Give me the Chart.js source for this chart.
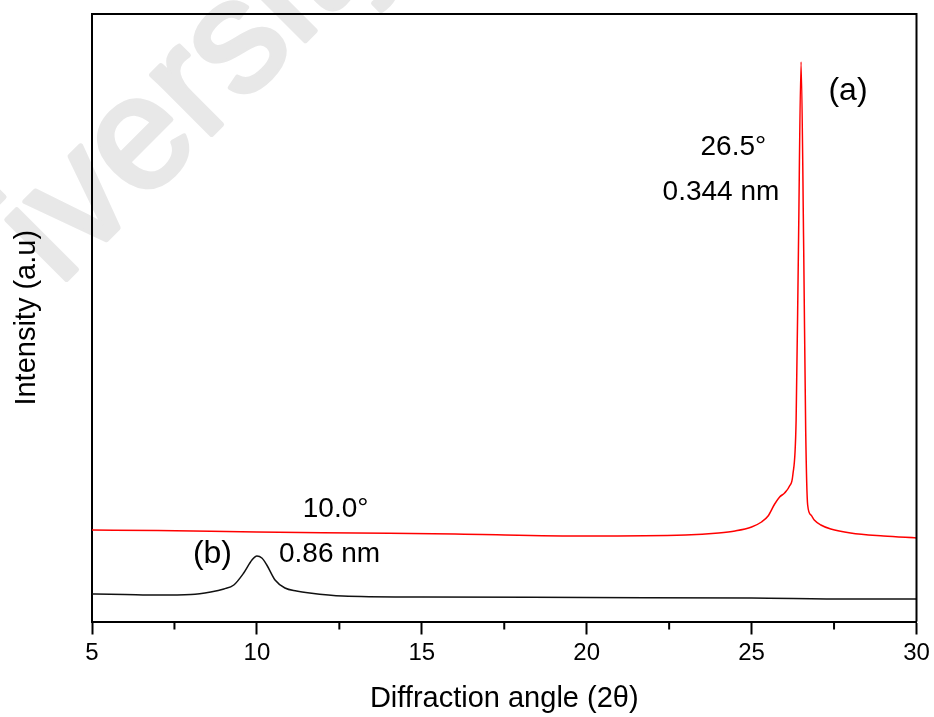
<!DOCTYPE html>
<html>
<head>
<meta charset="utf-8">
<title>XRD patterns</title>
<script src="https://cdn.jsdelivr.net/npm/chart.js@4.4.1/dist/chart.umd.min.js"></script>
<style>
  html, body { margin: 0; padding: 0; background: #fff; }
  #wrap { position: relative; width: 934px; height: 717px; }
</style>
</head>
<body>
<div id="wrap"><canvas id="xrd"></canvas></div>
<script>
// Pattern (a): 2-theta positions and intensities (a.u.)
const angleA = [5, 7, 10, 13, 16, 20, 23, 24, 24.5, 25, 25.3, 25.5, 25.7, 25.85, 26.0, 26.15, 26.25, 26.35, 26.42, 26.5, 26.58, 26.64, 26.7, 26.8, 26.9, 27.1, 27.4, 28, 29, 30];
const intensityA = [915, 910, 895, 885, 875, 855, 865, 885, 905, 945, 995, 1055, 1175, 1245, 1285, 1355, 1465, 2015, 3715, 5595, 3715, 1915, 1165, 1065, 1015, 965, 925, 885, 855, 835];

// Pattern (b)
const angleB = [5, 6, 7, 8, 8.6, 9.0, 9.3, 9.6, 9.85, 10.0, 10.15, 10.3, 10.55, 10.85, 11.2, 11.6, 12.6, 15, 20, 25, 28, 30];
const intensityB = [275, 270, 265, 270, 295, 325, 365, 485, 615, 655, 635, 565, 415, 335, 305, 285, 255, 245, 240, 235, 225, 225];

// Axis settings
const xMin = 5;
const xMax = 30;
const xMajorStep = 5;
const xMinorTicks = [7.5, 12.5, 17.5, 22.5, 27.5];
const yMax = 6075;

// Peak annotations: [text, angle, intensity, font size]
const notes = [
  ["(a)", 27.33, 5215, 32],
  ["26.5°", 23.45, 4665, 28],
  ["0.344 nm", 22.3, 4215, 28],
  ["10.0°", 11.39, 1045, 28],
  ["(b)", 8.06, 585, 32],
  ["0.86 nm", 10.67, 595, 28],
];

const FONT = '"Liberation Sans", Arial, sans-serif';

function toPoints(xs, ys) {
  return xs.map((x, i) => ({ x: x, y: ys[i] }));
}

// white page plus the faint watermark behind everything
const backdrop = {
  id: "backdrop",
  beforeDraw(chart) {
    const ctx = chart.ctx;
    ctx.save();
    ctx.fillStyle = "#fff";
    ctx.fillRect(0, 0, chart.width, chart.height);
    ctx.translate(59, 287);
    ctx.rotate(-45 * Math.PI / 180);
    ctx.font = "160px " + FONT;
    ctx.fillStyle = "#e8e8e8";
    ctx.strokeStyle = "#e8e8e8";
    ctx.lineWidth = 5;
    ctx.lineJoin = "round";
    ctx.textBaseline = "alphabetic";
    ctx.strokeText("iversity", 0, 0);
    ctx.fillText("iversity", 0, 0);
    ctx.restore();
  },
};

// closing frame, minor ticks and the peak labels
const decorations = {
  id: "decorations",
  afterDraw(chart) {
    const ctx = chart.ctx;
    const area = chart.chartArea;
    const xs = chart.scales.x;
    const ys = chart.scales.y;
    ctx.save();
    ctx.strokeStyle = "#000";
    ctx.lineWidth = 2;
    ctx.beginPath();
    ctx.moveTo(area.left, area.top);
    ctx.lineTo(area.right, area.top);
    ctx.lineTo(area.right, area.bottom);
    ctx.stroke();

    ctx.beginPath();
    xMinorTicks.forEach((v) => {
      const px = xs.getPixelForValue(v);
      ctx.moveTo(px, area.bottom);
      ctx.lineTo(px, area.bottom + 8);
    });
    ctx.stroke();

    ctx.fillStyle = "#000";
    ctx.textAlign = "left";
    ctx.textBaseline = "alphabetic";
    notes.forEach(([text, x, y, size]) => {
      ctx.font = size + "px " + FONT;
      ctx.fillText(text, xs.getPixelForValue(x), ys.getPixelForValue(y));
    });
    ctx.restore();
  },
};

const chart = new Chart(document.getElementById("xrd"), {
  type: "line",
  data: {
    datasets: [
      {
        label: "(a)",
        data: toPoints(angleA, intensityA),
        borderColor: "#ff0000",
        borderWidth: 1.5,
        pointRadius: 0,
        cubicInterpolationMode: "monotone",
        fill: false,
      },
      {
        label: "(b)",
        data: toPoints(angleB, intensityB),
        borderColor: "#111",
        borderWidth: 1.5,
        pointRadius: 0,
        cubicInterpolationMode: "monotone",
        fill: false,
      },
    ],
  },
  options: {
    responsive: true,
    maintainAspectRatio: false,
    animation: false,
    devicePixelRatio: 1,
    layout: { padding: { left: 0, top: 14, right: 17.5, bottom: 0 } },
    plugins: {
      legend: { display: false },
      tooltip: { enabled: false },
    },
    scales: {
      x: {
        type: "linear",
        min: xMin,
        max: xMax,
        afterFit: (scale) => { scale.height = 717 - 621.5; },
        ticks: {
          stepSize: xMajorStep,
          padding: 4,
          color: "#000",
          font: { family: FONT, size: 24 },
          maxRotation: 0,
        },
        grid: {
          display: true,
          drawOnChartArea: false,
          drawTicks: true,
          tickLength: 13,
          tickWidth: 2,
          tickColor: "#000",
        },
        border: { display: true, color: "#000", width: 2 },
        title: {
          display: true,
          text: "Diffraction angle (2θ)",
          color: "#000",
          font: { family: FONT, size: 29 },
          padding: { top: 0, bottom: 1 },
        },
      },
      y: {
        min: 0,
        max: yMax,
        afterFit: (scale) => { scale.width = 92; },
        ticks: { display: false },
        grid: { display: false, drawTicks: false },
        border: { display: true, color: "#000", width: 2 },
        title: {
          display: true,
          text: "Intensity (a.u)",
          color: "#000",
          font: { family: FONT, size: 29 },
          padding: { top: 10, bottom: 0 },
        },
      },
    },
  },
  plugins: [backdrop, decorations],
});
</script>
</body>
</html>
